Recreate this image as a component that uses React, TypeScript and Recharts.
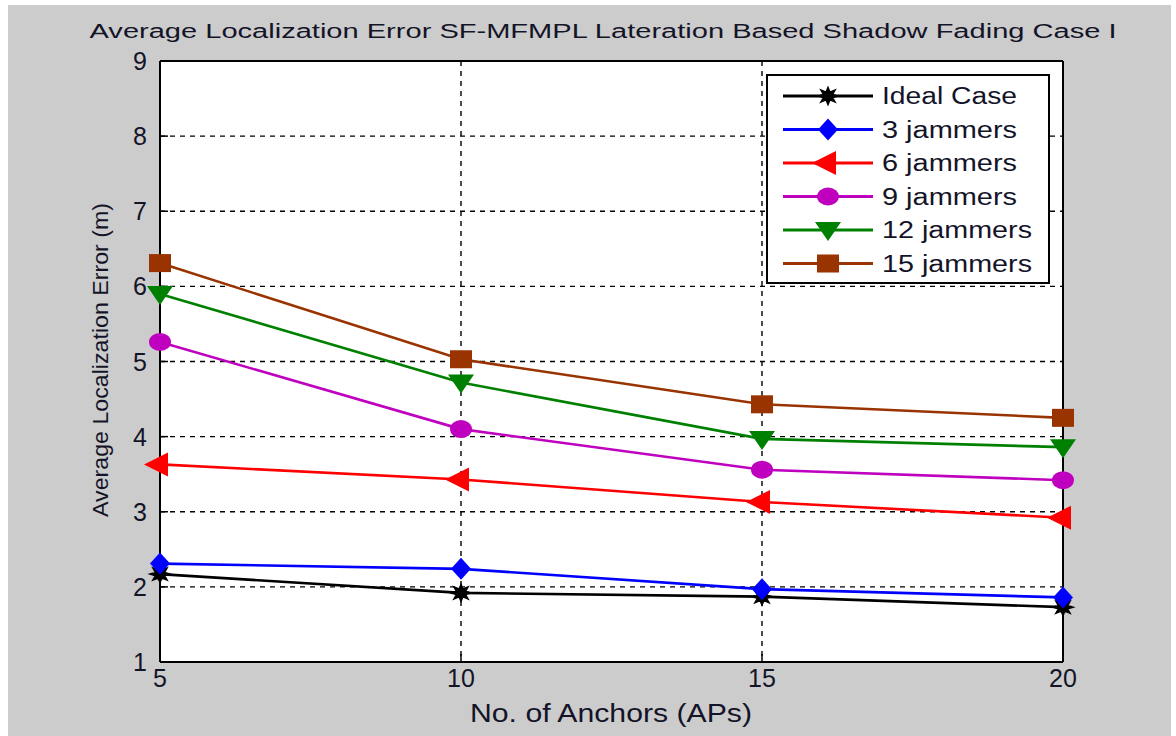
import { CartesianGrid, Legend, Line, LineChart, XAxis, YAxis } from 'recharts'

const anchors = [5, 10, 15, 20]
const idealCase = [2.17, 1.92, 1.87, 1.73]
const jammers3 = [2.31, 2.24, 1.97, 1.86]
const jammers6 = [3.63, 3.43, 3.13, 2.92]
const jammers9 = [5.26, 4.1, 3.56, 3.42]
const jammers12 = [5.9, 4.72, 3.97, 3.86]
const jammers15 = [6.31, 5.03, 4.43, 4.25]
const xTicks = [5, 10, 15, 20]
const yTicks = [1, 2, 3, 4, 5, 6, 7, 8, 9]

const series = [
  { key: 'ideal', name: 'Ideal Case', values: idealCase, color: '#000000', shape: 'star', textLen: 135 },
  { key: 'j3', name: '3 jammers', values: jammers3, color: '#0000ff', shape: 'diamond', textLen: 135 },
  { key: 'j6', name: '6 jammers', values: jammers6, color: '#ff0000', shape: 'left', textLen: 135 },
  { key: 'j9', name: '9 jammers', values: jammers9, color: '#bf00bf', shape: 'circle', textLen: 135 },
  { key: 'j12', name: '12 jammers', values: jammers12, color: '#008000', shape: 'down', textLen: 150 },
  { key: 'j15', name: '15 jammers', values: jammers15, color: '#993300', shape: 'square', textLen: 150 },
]

const data = anchors.map((a, i) => {
  const row: Record<string, number> = { anchors: a }
  series.forEach((s) => {
    row[s.key] = s.values[i]
  })
  return row
})

const FONT = "'Liberation Sans', Arial, sans-serif"
const TEXT = '#141428'

// 8-point star, stands in for matlab's '*' marker
function starPoints(cx: number, cy: number) {
  const pts: string[] = []
  for (let k = 0; k < 16; k++) {
    const a = (Math.PI / 8) * k
    const r = k % 2 === 0 ? 10 : 5
    pts.push(`${cx + r * Math.cos(a)},${cy + r * Math.sin(a) * 0.85}`)
  }
  return pts.join(' ')
}

function Marker({ shape, color, cx, cy }: { shape: string; color: string; cx: number; cy: number }) {
  switch (shape) {
    case 'star':
      return <polygon points={starPoints(cx, cy)} fill={color} stroke={color} strokeWidth={1.5} />
    case 'diamond':
      return <polygon points={`${cx},${cy - 11} ${cx + 10},${cy} ${cx},${cy + 11} ${cx - 10},${cy}`} fill={color} />
    case 'left':
      return <polygon points={`${cx - 16},${cy} ${cx + 8},${cy - 12} ${cx + 8},${cy + 12}`} fill={color} />
    case 'circle':
      return <ellipse cx={cx} cy={cy} rx={11} ry={9} fill={color} />
    case 'down':
      return <polygon points={`${cx - 13},${cy - 8} ${cx + 13},${cy - 8} ${cx},${cy + 11}`} fill={color} />
    default:
      return <rect x={cx - 11} y={cy - 9} width={22} height={18} fill={color} />
  }
}

const XTick = ({ x, y, payload }: any) => (
  <text x={x} y={y} dy={19} textAnchor="middle" fontFamily={FONT} fontSize={25} fill={TEXT}>
    {payload.value}
  </text>
)

const YTick = ({ x, y, payload }: any) => (
  <text x={x} y={y} dy={9} textAnchor="end" fontFamily={FONT} fontSize={25} fill={TEXT}>
    {payload.value}
  </text>
)

const LegendBox = () => (
  <svg width={284} height={210} style={{ display: 'block' }}>
    <rect x={1} y={1} width={282} height={208} fill="#ffffff" stroke="#000" strokeWidth={2} />
    {series.map((s, i) => {
      const cy = 22 + i * 33.5
      return (
        <g key={s.key}>
          <line x1={17} y1={cy} x2={107} y2={cy} stroke={s.color} strokeWidth={3} />
          <Marker shape={s.shape} color={s.color} cx={62} cy={cy} />
          <text
            x={116}
            y={cy + 8}
            fontFamily={FONT}
            fontSize={23}
            fill={TEXT}
            textLength={s.textLen}
            lengthAdjust="spacingAndGlyphs"
          >
            {s.name}
          </text>
        </g>
      )
    })}
  </svg>
)

export default function App() {
  return (
    <div style={{ position: 'absolute', left: 0, top: 0, width: 1176, height: 736, background: '#ffffff' }}>
      <div style={{ position: 'absolute', left: 8, top: 5, width: 1163, height: 731, background: '#cccccc' }}>
        <LineChart
          width={1163}
          height={731}
          data={data}
          margin={{ top: 55, right: 107, bottom: 34, left: 92 }}
        >
          <CartesianGrid stroke="#000" strokeWidth={1.4} strokeDasharray="5 5" fill="#ffffff" fillOpacity={1} />
          <XAxis
            dataKey="anchors"
            type="number"
            domain={[5, 20]}
            ticks={xTicks}
            height={40}
            tickSize={-8}
            tickMargin={14}
            tick={<XTick />}
            axisLine={{ stroke: '#000', strokeWidth: 2 }}
            tickLine={{ stroke: '#000', strokeWidth: 1.5 }}
          />
          <XAxis
            xAxisId="top"
            orientation="top"
            dataKey="anchors"
            type="number"
            domain={[5, 20]}
            ticks={xTicks}
            height={1}
            tickSize={-8}
            tick={false}
            axisLine={{ stroke: '#000', strokeWidth: 2 }}
            tickLine={{ stroke: '#000', strokeWidth: 1.5 }}
          />
          <YAxis
            type="number"
            domain={[1, 9]}
            ticks={yTicks}
            width={60}
            tickSize={-8}
            tickMargin={21}
            tick={<YTick />}
            axisLine={{ stroke: '#000', strokeWidth: 2 }}
            tickLine={{ stroke: '#000', strokeWidth: 1.5 }}
          />
          <YAxis
            yAxisId="right"
            orientation="right"
            type="number"
            domain={[1, 9]}
            ticks={yTicks}
            width={1}
            tickSize={-8}
            tick={false}
            axisLine={{ stroke: '#000', strokeWidth: 2 }}
            tickLine={{ stroke: '#000', strokeWidth: 1.5 }}
          />
          <Legend
            layout="vertical"
            align="center"
            verticalAlign="middle"
            wrapperStyle={{ left: 758, top: 69, width: 284, height: 210 }}
            content={<LegendBox />}
          />
          {series.map((s) => (
            <Line
              key={s.key}
              dataKey={s.key}
              name={s.name}
              type="linear"
              stroke={s.color}
              strokeWidth={2.6}
              isAnimationActive={false}
              dot={(p: any) => <Marker key={`${s.key}-${p.index}`} shape={s.shape} color={s.color} cx={p.cx} cy={p.cy} />}
              activeDot={false}
            />
          ))}
        </LineChart>
      </div>
      <svg width={1176} height={736} style={{ position: 'absolute', left: 0, top: 0, pointerEvents: 'none' }}>
        <text
          x={603}
          y={38}
          textAnchor="middle"
          fontFamily={FONT}
          fontSize={20}
          fill={TEXT}
          textLength={1027}
          lengthAdjust="spacingAndGlyphs"
        >
          Average Localization Error SF-MFMPL Lateration Based Shadow Fading Case I
        </text>
        <text
          x={611}
          y={722}
          textAnchor="middle"
          fontFamily={FONT}
          fontSize={25}
          fill={TEXT}
          textLength={282}
          lengthAdjust="spacingAndGlyphs"
        >
          No. of Anchors (APs)
        </text>
        <text
          x={108}
          y={360}
          transform="rotate(-90 108 360)"
          textAnchor="middle"
          fontFamily={FONT}
          fontSize={22}
          fill={TEXT}
          textLength={314}
          lengthAdjust="spacingAndGlyphs"
        >
          Average Localization Error (m)
        </text>
      </svg>
    </div>
  )
}
